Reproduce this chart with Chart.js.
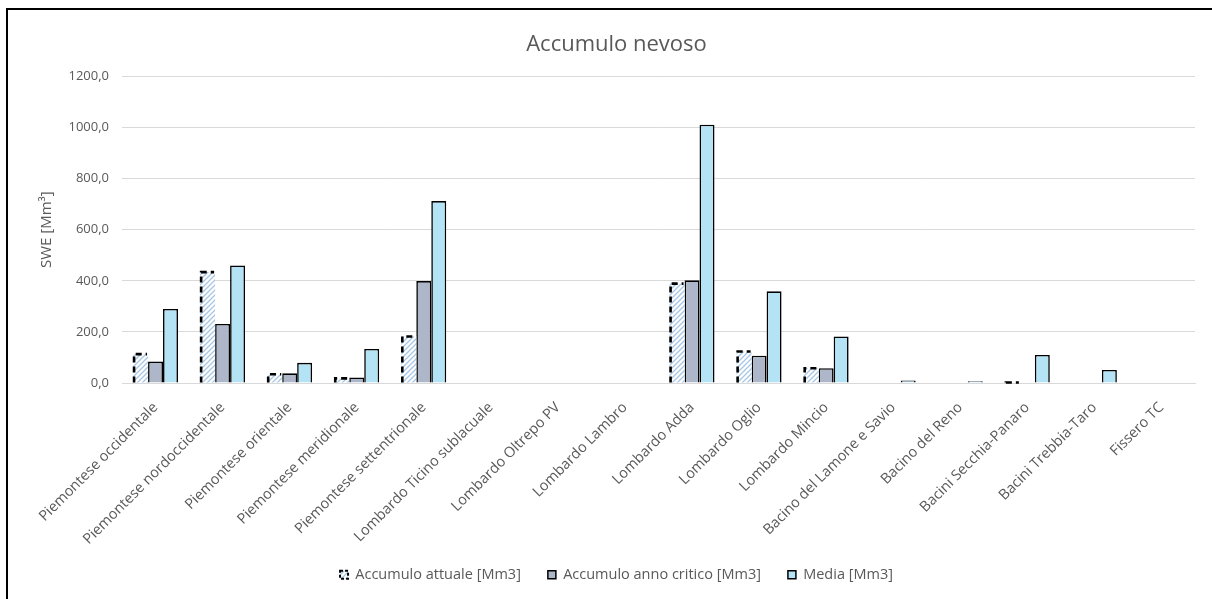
<!DOCTYPE html>
<html>
<head>
<meta charset="utf-8">
<script src="https://cdn.jsdelivr.net/npm/chart.js@4.4.1/dist/chart.umd.min.js"></script>
<style>
html, body {margin: 0; padding: 0; background: #fff;}
#box {position: absolute; left: 0; top: 0; width: 1212px; height: 599px;}
#frame {position: absolute; left: 6px; top: 8px; width: 1210px; height: 595px;
  border-left: 2px solid #000; border-top: 2px solid #000; pointer-events: none;}
</style>
</head>
<body>
<div id="box"><canvas id="myChart"></canvas></div>
<div id="frame"></div>
<script>
var categories = [
	"Piemontese occidentale", "Piemontese nordoccidentale", "Piemontese orientale",
	"Piemontese meridionale", "Piemontese settentrionale", "Lombardo Ticino sublacuale",
	"Lombardo Oltrepo PV", "Lombardo Lambro", "Lombardo Adda", "Lombardo Oglio",
	"Lombardo Mincio", "Bacino del Lamone e Savio", "Bacino del Reno",
	"Bacini Secchia-Panaro", "Bacini Trebbia-Taro", "Fissero TC"
];
var attuale = [113, 434, 34, 18, 182, null, null, null, 389, 123, 58, null, null, 2, null, null];
var critico = [84, 231, 38, 22, 399, null, null, null, 402, 107, 58, null, null, null, null, null];
var media = [290, 460, 79, 133, 712, null, null, null, 1011, 359, 182, 10, 7, 110, 51, null];
var seriesNames = ["Accumulo attuale [Mm3]", "Accumulo anno critico [Mm3]", "Media [Mm3]"];
var yTicks = [0, 200, 400, 600, 800, 1000, 1200];

// hatched fill for the current accumulation
function hatch() {
	var c = document.createElement("canvas");
	c.width = 5;
	c.height = 5;
	var g = c.getContext("2d");
	g.fillStyle = "#ffffff";
	g.fillRect(0, 0, 5, 5);
	g.strokeStyle = "#a6c6e4";
	g.lineWidth = 1.3;
	g.beginPath();
	g.moveTo(0, 5); g.lineTo(5, 0);
	g.moveTo(-1, 1); g.lineTo(1, -1);
	g.moveTo(4, 6); g.lineTo(6, 4);
	g.stroke();
	return g.createPattern(c, "repeat");
}
var hatchFill = hatch();

var dashedBorder = {
	id: "dashedBorder",
	afterDatasetsDraw: function(chart) {
		var meta = chart.getDatasetMeta(0);
		var ctx = chart.ctx;
		ctx.save();
		ctx.strokeStyle = "#000";
		ctx.lineWidth = 2.6;
		ctx.setLineDash([6, 4]);
		meta.data.forEach(function(bar, i) {
			if (attuale[i] === null) return;
			var l = bar.x - bar.width / 2 + 1, r = bar.x + bar.width / 2 - 1;
			ctx.beginPath();
			ctx.moveTo(l, bar.base);
			ctx.lineTo(l, bar.y);
			ctx.lineTo(r, bar.y);
			ctx.stroke();
		});
		ctx.restore();
	}
};

Chart.defaults.font.family = "'Open Sans', sans-serif";
Chart.defaults.color = "#595959";

new Chart("myChart", {
	type: "bar",
	data: {
		labels: categories,
		datasets: [
			{
				label: seriesNames[0],
				data: attuale,
				backgroundColor: hatchFill,
				borderColor: "#000",
				borderWidth: 0,
			},
			{
				label: seriesNames[1],
				data: critico,
				backgroundColor: "#adb7c9",
				borderColor: "#000",
				borderWidth: 1.6,
				borderSkipped: "bottom",
			},
			{
				label: seriesNames[2],
				data: media,
				backgroundColor: "#b3e3f5",
				borderColor: "#000",
				borderWidth: 1.6,
				borderSkipped: "bottom",
			},
		],
	},
	options: {
		responsive: true,
		maintainAspectRatio: false,
		animation: false,
		datasets: {bar: {categoryPercentage: 0.67, barPercentage: 1.0}},
		layout: {padding: {left: 38, right: 17, top: 0, bottom: 7}},
		plugins: {
			title: {
				display: true,
				text: "Accumulo nevoso",
				font: {size: 22, weight: "normal"},
				color: "#595959",
				padding: {top: 32, bottom: 18},
			},
			legend: {
				position: "bottom",
				labels: {
					boxWidth: 8,
					boxHeight: 8,
					padding: 27,
					font: {size: 14.5},
					color: "#595959",
					generateLabels: function(chart) {
						var items = Chart.defaults.plugins.legend.labels.generateLabels(chart);
						items.forEach(function(it, i) {
							it.strokeStyle = "#000";
							it.lineWidth = 1.5;
							if (i === 0) {
								it.lineDash = [3, 2];
								it.lineWidth = 2;
							}
						});
						return items;
					},
				},
			},
			tooltip: {enabled: false},
		},
		scales: {
			x: {
				grid: {display: false},
				border: {display: true, color: "#d9d9d9", width: 1},
				ticks: {
					maxRotation: 45,
					minRotation: 45,
					labelOffset: 0,
					padding: 8,
					font: {size: 14.5},
					color: "#595959",
				},
				afterFit: function(scale) {
					scale.height = 157.5;
					// long labels run into the legend band, don't cut them
					scale._computeLabelArea = function() { return undefined; };
				},
			},
			y: {
				min: 0,
				max: 1200,
				afterBuildTicks: function(scale) {
					scale.ticks = yTicks.map(function(v) { return {value: v}; });
				},
				grid: {color: "#d9d9d9", drawTicks: false},
				border: {display: false},
				ticks: {
					padding: 13,
					font: {size: 13},
					color: "#595959",
					callback: function(v) { return v.toFixed(1).replace(".", ","); },
				},
				title: {
					display: true,
					text: "SWE [Mm³]",
					font: {size: 15},
					color: "#595959",
					padding: 0,
				},
				afterFit: function(scale) { scale.width = 84; },
			},
		},
	},
	plugins: [dashedBorder],
});
</script>
</body>
</html>
